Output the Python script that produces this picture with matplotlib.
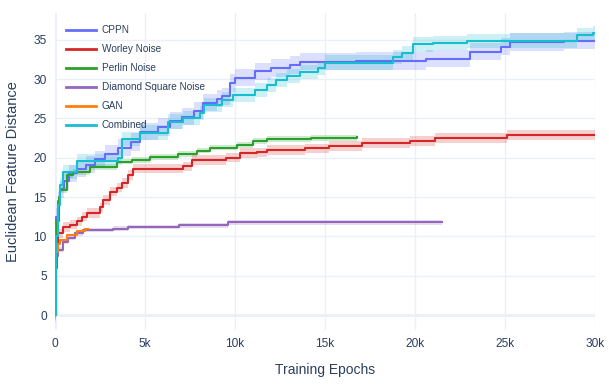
import numpy as np
import matplotlib
matplotlib.use("Agg")
from matplotlib import pyplot as plt

plt.rcParams['font.family'] = ['Liberation Sans', 'DejaVu Sans']

# training epochs and mean feature distance per method
cppn_x = [0, 20, 60, 150, 300, 500, 800, 1200, 1700, 2200, 2800, 3500, 4200, 4700, 5700, 6400,
          7060, 7700, 8200, 9000, 9300, 9700, 10000, 11100, 12000, 13060, 13600, 16700, 20600,
          23060, 24800, 25300, 28300, 30000]
cppn_y = [0, 8, 12.5, 14.5, 16, 17, 18, 18.6, 19.1, 19.8, 20.5, 21.3, 22, 23.3, 23.9, 24.7,
          25.2, 26, 27, 27.5, 27.8, 29.5, 30.2, 31.0, 31.4, 31.8, 32.2, 32.3, 32.6,
          33.5, 34.1, 34.7, 34.9, 34.9]

comb_x = [0, 30, 80, 150, 250, 440, 1200, 3500, 3700, 4700, 6300, 7100, 8050, 8300, 9300, 9900,
          11100, 11800, 12300, 12900, 13600, 14600, 15000, 18800, 19300, 19900, 21000, 22900,
          25300, 29000, 29900, 30000]
comb_y = [0, 5, 10, 14, 16.5, 18.2, 19.6, 20, 22.4, 23.2, 24.6, 25, 25.7, 26.7, 27.4, 28,
          28.6, 29.3, 29.9, 30.4, 30.9, 31.4, 32.1, 32.8, 33.3, 34.4, 34.6, 34.8,
          34.9, 35.6, 35.9, 35.9]

perlin_x = [0, 40, 100, 200, 300, 660, 1000, 1950, 3450, 4300, 5280, 6830, 7900, 8600, 10100,
            11000, 11800, 14200, 16800]
perlin_y = [0, 6, 12, 15, 15.9, 17.8, 18.2, 18.8, 19.5, 19.7, 20.1, 20.5, 20.9, 21.3, 21.6,
            22.1, 22.4, 22.5, 22.6]

worley_x = [0, 30, 80, 150, 170, 440, 830, 1200, 1500, 1780, 2500, 2670, 3060, 3440, 3720, 4060,
            4330, 7100, 7600, 9500, 10300, 11200, 11800, 13900, 15200, 17050, 19700, 21100,
            25100, 30000]
worley_y = [0, 5, 8.5, 9.5, 10.4, 11.2, 11.5, 11.9, 12.5, 13, 13.7, 14.6, 15.7, 16.2, 16.8, 17.8,
            18.6, 18.9, 19.7, 20.0, 20.6, 20.7, 21.0, 21.2, 21.5, 21.9, 22.1, 22.5,
            22.9, 22.9]

diamond_x = [0, 30, 80, 150, 440, 720, 1110, 1550, 3220, 4060, 6900, 9600, 21500]
diamond_y = [0, 4, 7.5, 8.3, 9.3, 9.8, 10.4, 10.8, 11.0, 11.2, 11.4, 11.8, 11.8]

gan_x = [0, 30, 80, 150, 280, 670, 1220, 1670, 1830]
gan_y = [0, 4, 8, 9, 9.5, 10.2, 10.7, 10.9, 10.9]

names = ["CPPN", "Worley Noise", "Perlin Noise", "Diamond Square Noise", "GAN", "Combined"]
colors = ["#636efa", "#d62728", "#2ca02c", "#9467bd", "#ff7f0e", "#17becf"]
spread = [1.1, 0.6, 0.35, 0.3, 0.15, 0.9]
series = [(cppn_x, cppn_y), (worley_x, worley_y), (perlin_x, perlin_y),
          (diamond_x, diamond_y), (gan_x, gan_y), (comb_x, comb_y)]

fig = plt.figure(figsize=(6.09, 3.88), dpi=100)
ax = fig.add_axes([55 / 609, 58 / 388, 540 / 609, 317 / 388])

for (xs, ys), name, c, s in zip(series, names, colors, spread):
    xs = np.array(xs)
    ys = np.array(ys)
    ax.fill_between(xs, ys - s, ys + s, step='post', color=c, alpha=0.22, lw=0)
    ax.plot(xs, ys, drawstyle='steps-post', color=c, lw=1.5, label=name)

ax.set_xlim(0, 30000)
ax.set_ylim(-1.9, 38.4)
ax.set_xticks(range(0, 30001, 5000))
ax.set_xticklabels(["0", "5k", "10k", "15k", "20k", "25k", "30k"])
ax.set_yticks(range(0, 36, 5))

for sp in ax.spines.values():
    sp.set_visible(False)
ax.grid(True, color="#ebf0f8", lw=1)
ax.set_axisbelow(True)
ax.axhline(0, color="#ebf0f8", lw=2, zorder=0.5)
ax.axvline(0, color="#ebf0f8", lw=2, zorder=0.5)
ax.tick_params(length=0, labelsize=8.6, colors="#2a3f5f", pad=6)

ax.set_xlabel("Training Epochs", fontsize=10, color="#2a3f5f", labelpad=9)
ax.set_ylabel("Euclidean Feature Distance", fontsize=10.5, color="#2a3f5f", labelpad=10)

leg = ax.legend(loc='upper left', bbox_to_anchor=(11 / 540, 1 - 12 / 317), frameon=False,
                fontsize=7.2, handlelength=3.0, handletextpad=0.55, labelspacing=0.9,
                borderpad=0, borderaxespad=0)
for t in leg.get_texts():
    t.set_color("#2a3f5f")
for h in leg.get_lines():
    h.set_linewidth(2)

fig.savefig("out.png", dpi=100)
